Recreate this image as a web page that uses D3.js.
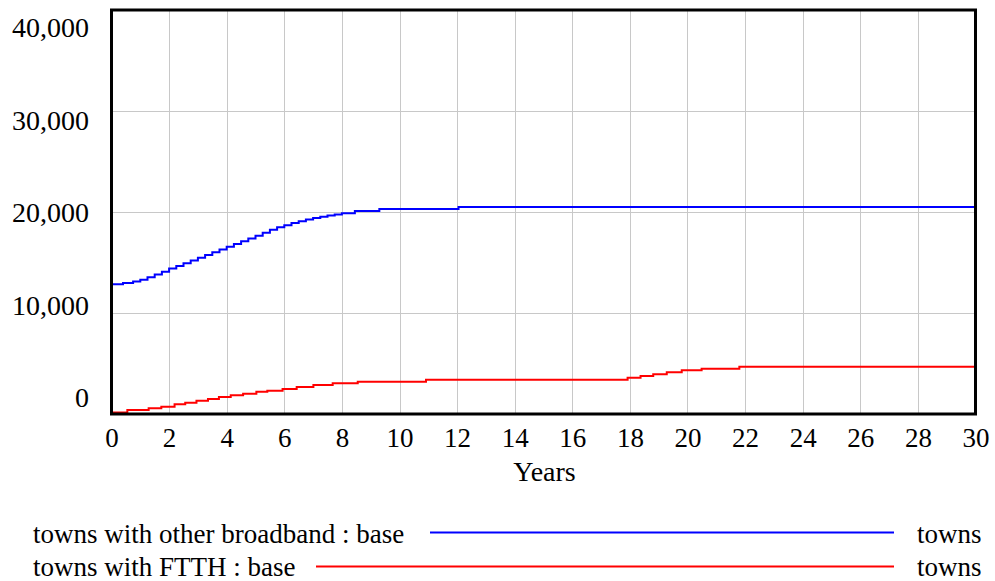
<!DOCTYPE html>
<html>
<head>
<meta charset="utf-8">
<script src="https://cdn.jsdelivr.net/npm/d3@7"></script>
<style>
  html, body { margin: 0; padding: 0; background: #fff; }
  svg { display: block; font-family: "Liberation Serif", "Times New Roman", serif; }
</style>
</head>
<body>
<svg id="chart" width="995" height="581"></svg>
<script>
// Time axis (years) and value axis ticks
const xTicks = [0, 2, 4, 6, 8, 10, 12, 14, 16, 18, 20, 22, 24, 26, 28, 30];
const yTicks = [0, 10000, 20000, 30000, 40000];

// towns with other broadband : base  (stepped simulation output)
const broadbandYears = [0, 0.4, 0.75, 1.0, 1.25, 1.5, 1.75, 2.0, 2.25, 2.5, 2.75, 3.0, 3.25, 3.5, 3.75,
  4.0, 4.25, 4.5, 4.75, 5.0, 5.25, 5.5, 5.75, 6.0, 6.25, 6.5, 6.75, 7.0, 7.25, 7.5, 7.75, 8.0, 8.45, 9.3, 12.05, 30];
const broadbandTowns = [12840, 12960, 13120, 13300, 13540, 13800, 14090, 14400, 14660, 14930, 15200, 15480, 15750, 16020, 16290,
  16560, 16830, 17100, 17370, 17650, 17950, 18250, 18480, 18700, 18900, 19080, 19250, 19400, 19530, 19650, 19760, 19870, 20100, 20300, 20500, 20500];

// towns with FTTH : base
const ftthYears = [0, 0.55, 1.29, 1.73, 2.19, 2.56, 2.95, 3.35, 3.73, 4.14, 4.57, 5.03, 5.41, 5.94, 6.43, 7.01, 7.68, 8.55, 10.92,
  17.92, 18.37, 18.81, 19.28, 19.8, 20.49, 21.8, 30];
const ftthTowns = [150, 400, 560, 720, 960, 1120, 1320, 1490, 1680, 1850, 2010, 2210, 2310, 2480, 2670, 2870, 3040, 3200, 3400,
  3600, 3760, 3930, 4130, 4330, 4490, 4680, 4680];

const seriesNames = ["towns with other broadband : base", "towns with FTTH : base"];
const seriesUnits = ["towns", "towns"];
const seriesColors = ["#0000ff", "#ff0000"];
const xTitle = "Years";

const FONT = "Liberation Serif, Times New Roman, serif";
const svg = d3.select("#chart");

const x = d3.scaleLinear().domain([0, 30]).range([111.5, 975.5]);
const y = d3.scaleLinear().domain([0, 40000]).range([414, 10]);
// value labels are spread evenly along the frame height
const yLabel = d3.scaleLinear().domain([0, 40000]).range([397.5, 28]);

// grid
const grid = svg.append("g").attr("stroke", "#c8c8c8").attr("stroke-width", 1);
grid.selectAll("line.v").data(xTicks.slice(1, -1)).join("line")
  .attr("x1", d => Math.round(x(d)) + 0.5).attr("x2", d => Math.round(x(d)) + 0.5)
  .attr("y1", y(40000)).attr("y2", y(0));
grid.selectAll("line.h").data(yTicks.slice(1, -1)).join("line")
  .attr("y1", d => Math.round(y(d)) + 0.5).attr("y2", d => Math.round(y(d)) + 0.5)
  .attr("x1", x(0)).attr("x2", x(30));

// series
const line = d3.line().curve(d3.curveStepAfter).x(d => x(d[0])).y(d => y(d[1]));
const seriesData = [
  d3.zip(broadbandYears, broadbandTowns),
  d3.zip(ftthYears, ftthTowns)
];
svg.append("g").selectAll("path").data(seriesData).join("path")
  .attr("fill", "none")
  .attr("stroke", (d, i) => seriesColors[i])
  .attr("stroke-width", 2)
  .attr("d", line);

// frame
svg.append("rect")
  .attr("x", x(0)).attr("y", y(40000))
  .attr("width", x(30) - x(0)).attr("height", y(0) - y(40000))
  .attr("fill", "none").attr("stroke", "#000").attr("stroke-width", 3);

// x axis labels
const xAxis = svg.append("g")
  .attr("transform", `translate(0,${y(0)})`)
  .call(d3.axisBottom(x).tickValues(xTicks).tickSize(0).tickPadding(14).tickFormat(d3.format("d")));
xAxis.attr("font-family", FONT).attr("font-size", 27);
xAxis.select(".domain").remove();
xAxis.selectAll("text").attr("fill", "#000");

// y axis labels
const yAxis = svg.append("g")
  .attr("transform", "translate(95,0)")
  .call(d3.axisLeft(yLabel).tickValues(yTicks).tickSize(0).tickPadding(6).tickFormat(d3.format(",")));
yAxis.attr("font-family", FONT).attr("font-size", 28);
yAxis.select(".domain").remove();
yAxis.selectAll("text").attr("fill", "#000");

// axis title
svg.append("text")
  .attr("x", 544.5).attr("y", 481)
  .attr("text-anchor", "middle")
  .attr("font-size", 28)
  .text(xTitle);

// legend
const legendRows = [
  { baseline: 543, lineY: 532.5, lineStart: 430 },
  { baseline: 576, lineY: 566.5, lineStart: 316 }
];
const legend = svg.append("g").attr("font-size", 27);
legendRows.forEach((r, i) => {
  legend.append("text").attr("x", 33).attr("y", r.baseline).text(seriesNames[i]);
  legend.append("line").attr("x1", r.lineStart).attr("x2", 894)
    .attr("y1", r.lineY).attr("y2", r.lineY)
    .attr("stroke", seriesColors[i]).attr("stroke-width", 2);
  legend.append("text").attr("x", 917).attr("y", r.baseline).text(seriesUnits[i]);
});
</script>
</body>
</html>
